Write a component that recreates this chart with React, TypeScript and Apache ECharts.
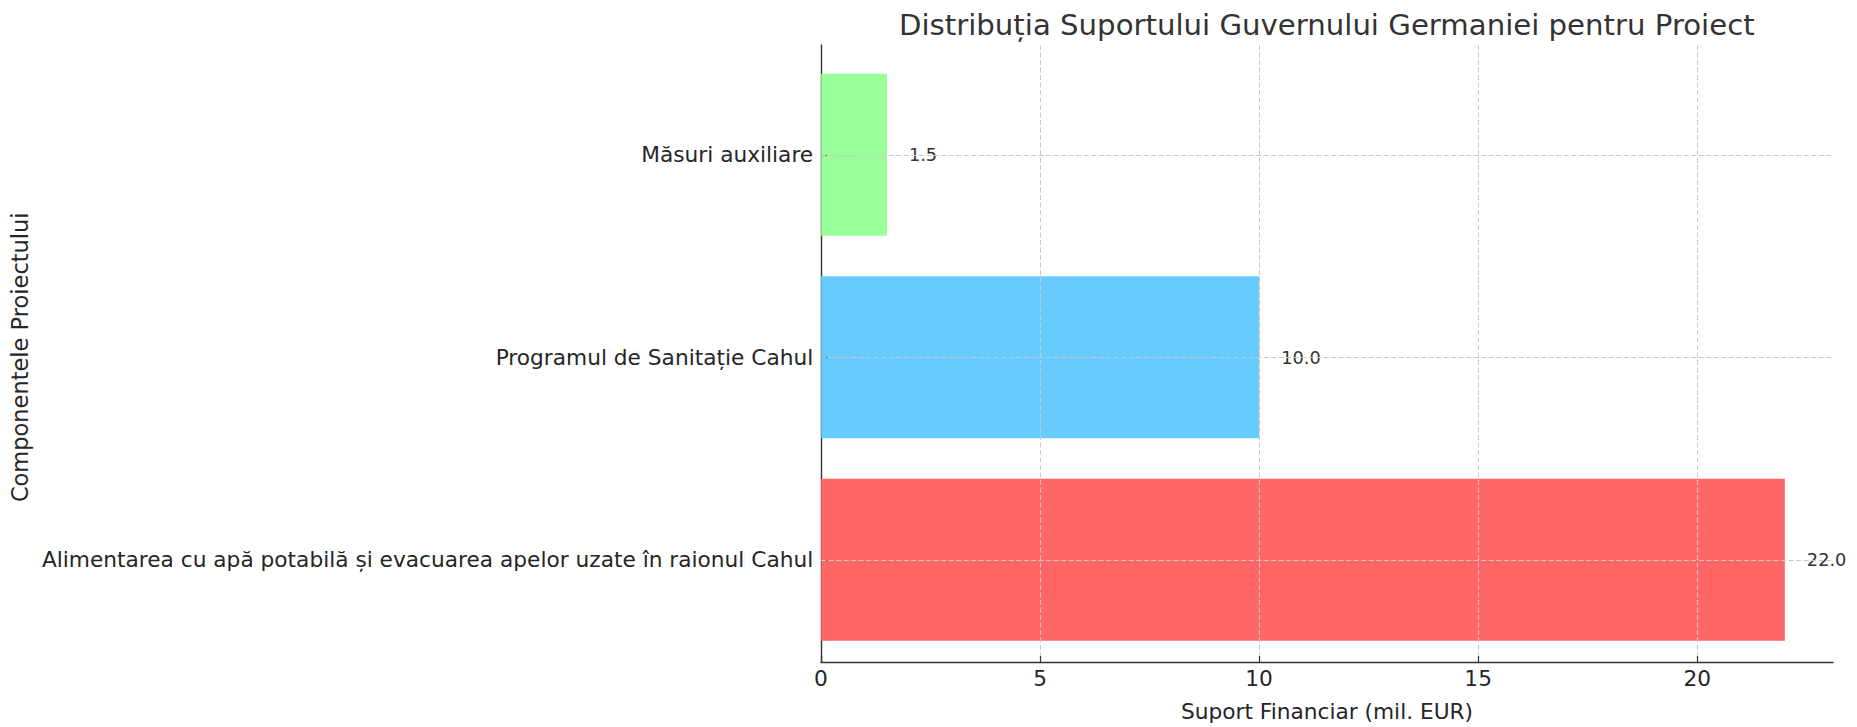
import React, { useEffect, useRef } from "react";
import * as echarts from "echarts";

const categories = [
  "Alimentarea cu apă potabilă și evacuarea apelor uzate în raionul Cahul",
  "Programul de Sanitație Cahul",
  "Măsuri auxiliare",
];
const values = [22.0, 10.0, 1.5];
const barColors = ["#FF6666", "#66CCFF", "#99FF99"];
const xTicks = [0, 5, 10, 15, 20];
const xMax = 23.1;

const titleText = "Distribuția Suportului Guvernului Germaniei pentru Proiect";
const xName = "Suport Financiar (mil. EUR)";
const yName = "Componentele Proiectului";

const FONT = "DejaVu Sans";

export default function App() {
  const ref = useRef<HTMLDivElement>(null);
  useEffect(() => {
    if (!ref.current) return;
    const chart = echarts.init(ref.current, undefined, { renderer: "svg" });
    const gridLine = { color: "#c8c8c8", width: 1, type: [5, 2.5] as any };
    chart.setOption({
      animation: false,
      backgroundColor: "#ffffff",
      textStyle: { fontFamily: FONT },
      title: {
        text: titleText,
        left: 894,
        top: 5,
        textStyle: { fontFamily: FONT, fontSize: 29.2, fontWeight: "normal", color: "#333333" },
      },
      grid: [
        { left: 821, top: 45, right: 24, bottom: 58, containLabel: false },
        { left: 821, top: 53.5, right: 24, height: 607.5, containLabel: false },
      ],
      xAxis: [
        {
          type: "value",
          gridIndex: 0,
          min: 0,
          max: xMax,
          interval: 5,
          z: 3,
          name: xName,
          nameLocation: "middle",
          nameGap: 38,
          nameTextStyle: { fontFamily: FONT, fontSize: 21.7, color: "#262626" },
          axisLine: { show: true, lineStyle: { color: "#333333", width: 1.4 } },
          axisTick: { show: true, inside: true, length: 6, lineStyle: { color: "#333333", width: 1.2 }, customValues: xTicks },
          axisLabel: { fontFamily: FONT, fontSize: 21.7, color: "#262626", margin: 5, customValues: xTicks },
          splitLine: { show: true, showMinLine: false, lineStyle: gridLine },
        },
        {
          type: "value",
          gridIndex: 1,
          min: 0,
          max: xMax,
          show: false,
        },
      ],
      yAxis: [
        {
          type: "value",
          gridIndex: 0,
          min: 0,
          max: 1,
          axisLine: { show: true, lineStyle: { color: "#333333", width: 1.4 } },
          axisTick: { show: false },
          axisLabel: { show: false },
          splitLine: { show: false },
        },
        {
          type: "category",
          gridIndex: 1,
          data: categories,
          z: 3,
          name: yName,
          nameLocation: "middle",
          nameRotate: 90,
          nameGap: 788,
          nameTextStyle: { fontFamily: FONT, fontSize: 22.5, color: "#262626" },
          axisLine: { show: false },
          axisTick: { show: true, inside: true, length: 6, alignWithLabel: true, lineStyle: { color: "#333333", width: 1.2 } },
          axisLabel: { fontFamily: FONT, fontSize: 21.7, color: "#262626", margin: 8 },
          splitLine: { show: false },
        },
      ],
      series: [
        {
          type: "bar",
          xAxisIndex: 1,
          yAxisIndex: 1,
          barWidth: "80%",
          data: values.map((v, i) => ({ value: v, itemStyle: { color: barColors[i] } })),
          label: {
            show: true,
            position: "right",
            distance: 22,
            fontFamily: FONT,
            fontSize: 17.8,
            color: "#333333",
            formatter: (p: any) => Number(p.value).toFixed(1),
          },
          markLine: {
            silent: true,
            symbol: "none",
            z: 5,
            label: { show: false },
            lineStyle: gridLine,
            data: categories.map((c) => ({ yAxis: c })),
          },
        },
      ],
    });
    return () => chart.dispose();
  }, []);
  return (
    <div
      ref={ref}
      style={{ position: "fixed", left: 0, top: 0, width: 1857, height: 727 }}
    />
  );
}
